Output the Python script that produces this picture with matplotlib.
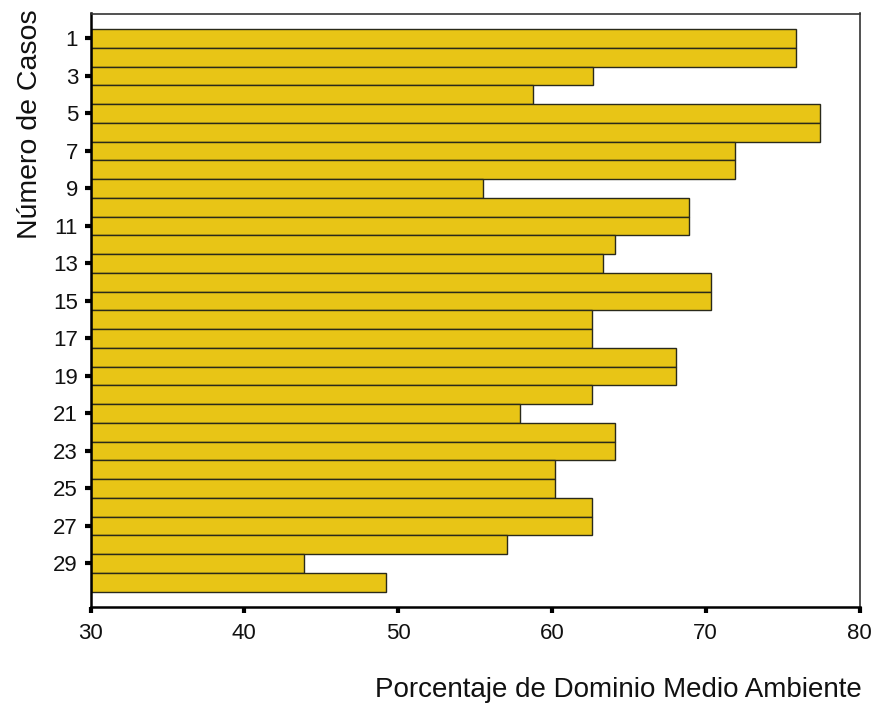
import matplotlib
matplotlib.use("Agg")
import matplotlib.pyplot as plt
import numpy as np

cases = list(range(1, 31))
values = [75.9, 75.9, 62.65, 58.8, 77.4, 77.4, 71.9, 71.9, 55.5, 68.9,
          68.9, 64.1, 63.3, 70.35, 70.35, 62.6, 62.6, 68.1, 68.1, 62.6,
          57.9, 64.1, 64.1, 60.2, 60.2, 62.6, 62.6, 57.1, 43.85, 49.2]
xticks = [30, 40, 50, 60, 70, 80]
ytick_cases = list(range(1, 30, 2))
xlabel = "Porcentaje de Dominio Medio Ambiente"
ylabel = "Número de Casos"

plt.rcParams['font.family'] = ['Liberation Sans', 'DejaVu Sans']

fig = plt.figure(figsize=(8.77, 7.14), dpi=100)
ax = fig.add_axes([90.5/877, 1-606.5/714, (859.5-90.5)/877, (606.5-13.5)/714])

base = xticks[0]
ax.barh(cases, np.array(values) - base, left=base, height=1.0,
        color='#E8C516', edgecolor='#2a2a1a', linewidth=1.0)

ax.set_xlim(30, 80)
ax.set_ylim(31.3, -0.33)
ax.set_xticks(xticks)
ax.set_xticklabels([str(t) for t in xticks], fontsize=16, color='#111111')
ax.set_yticks(ytick_cases)
ax.set_yticklabels([str(c) for c in ytick_cases], fontsize=16, color='#111111')
ax.tick_params(axis='y', direction='out', length=4, width=3, color='black', pad=5)
ax.tick_params(axis='x', direction='out', length=4, width=3, color='black', pad=8)

for s in ['left', 'bottom']:
    ax.spines[s].set_linewidth(1.8)
    ax.spines[s].set_color('black')
for s in ['top', 'right']:
    ax.spines[s].set_linewidth(1.2)
    ax.spines[s].set_color('#333333')

fig.text(862/877, 1-690/714, xlabel, ha='right', va='center', fontsize=20, color='#111111')
fig.text(30/877, 1-9/714, ylabel, ha='center', va='top', rotation=90, fontsize=20.5, color='#111111')

fig.savefig("out.png", dpi=100)
